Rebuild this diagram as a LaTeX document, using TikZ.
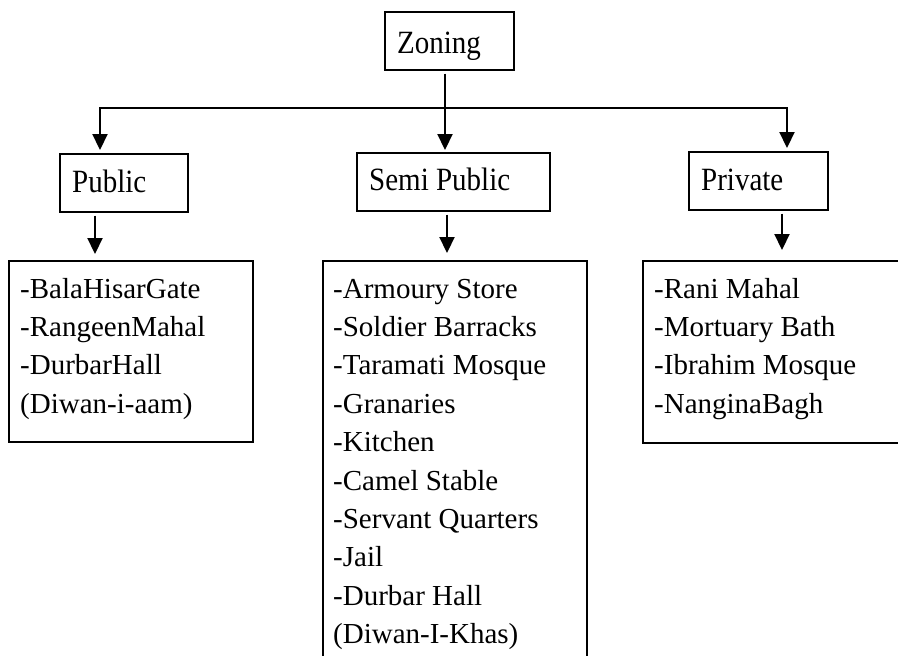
\documentclass[tikz,border=0pt]{standalone}
\usepackage{fontspec}
\usepackage{graphicx}
\setmainfont{Liberation Serif}
\usetikzlibrary{arrows.meta,calc}
\newcommand{\tallx}[1]{\scalebox{1}[1.12]{#1}}
\begin{document}
\begin{tikzpicture}[x=1pt,y=-1pt,
  box/.style={draw,line width=1.5pt,inner sep=0pt,anchor=north west},
  lbl/.style={inner sep=0pt,anchor=base west,font=\fontsize{29}{35}\selectfont},
  tip/.tip={Triangle[length=16pt,width=15pt]},
  conn/.style={line width=2.2pt,-tip},
]
\fill[white] (0,0) rectangle (898,656);
\clip (0,0) rectangle (898,656);
% boxes
\node[box,minimum width=129pt,minimum height=58pt] (zoning) at (384,11) {};
\node[box,minimum width=128pt,minimum height=58pt] (public) at (59,153) {};
\node[box,minimum width=193pt,minimum height=58pt] (semi) at (356,152) {};
\node[box,minimum width=139pt,minimum height=58pt] (private) at (688,151) {};
\node[box,minimum width=244pt,minimum height=181pt] (publist) at (8,260) {};
\node[box,minimum width=264pt,minimum height=420pt] (semilist) at (322,260) {};
\node[box,minimum width=270pt,minimum height=182pt] (privlist) at (642,260) {};
% labels
\node[lbl] (tzoning) at (397,53) {\tallx{Zoning}};
\node[lbl] (tpublic) at (72,192) {\tallx{Public}};
\node[lbl] (tsemi) at (369,190) {\tallx{Semi Public}};
\node[lbl] (tprivate) at (701,190) {\tallx{Private}};
\foreach \t [count=\i] in {{-BalaHisarGate},{-RangeenMahal},{-DurbarHall},{(Diwan-i-aam)}}
  \node[lbl] (pub\i) at (20,{298+38.4*(\i-1)}) {\t};
\foreach \t [count=\i] in {{-Armoury Store},{-Soldier Barracks},{-Taramati Mosque},{-Granaries},{-Kitchen},{-Camel Stable},{-Servant Quarters},{-Jail},{-Durbar Hall},{(Diwan-I-Khas)}}
  \node[lbl] (semi\i) at (333,{298+38.4*(\i-1)}) {\t};
\foreach \t [count=\i] in {{-Rani Mahal},{-Mortuary Bath},{-Ibrahim Mosque},{-NanginaBagh}}
  \node[lbl] (priv\i) at (654,{298+38.4*(\i-1)}) {\t};
% connectors
\coordinate (cz) at (445,0);
\coordinate (hl) at (100,108);
\coordinate (hr) at (787,108);
\coordinate (pa) at (95,0);
\coordinate (sa) at (447,0);
\coordinate (ra) at (782,0);
\draw[conn] ($(zoning.south -| cz)+(0,3)$) -- ($(semi.north -| cz)+(0,-2)$);
\draw[line width=2.2pt,tip-tip] ($(public.north -| hl)+(0,-3)$) -- (hl) -- (hr) -- ($(private.north -| hr)+(0,-3)$);
\draw[conn] ($(public.south -| pa)+(0,3)$) -- ($(publist.north -| pa)+(0,-6)$);
\draw[conn] ($(semi.south -| sa)+(0,3)$) -- ($(semilist.north -| sa)+(0,-7)$);
\draw[conn] ($(private.south -| ra)+(0,3)$) -- ($(privlist.north -| ra)+(0,-10)$);
\end{tikzpicture}
\end{document}
